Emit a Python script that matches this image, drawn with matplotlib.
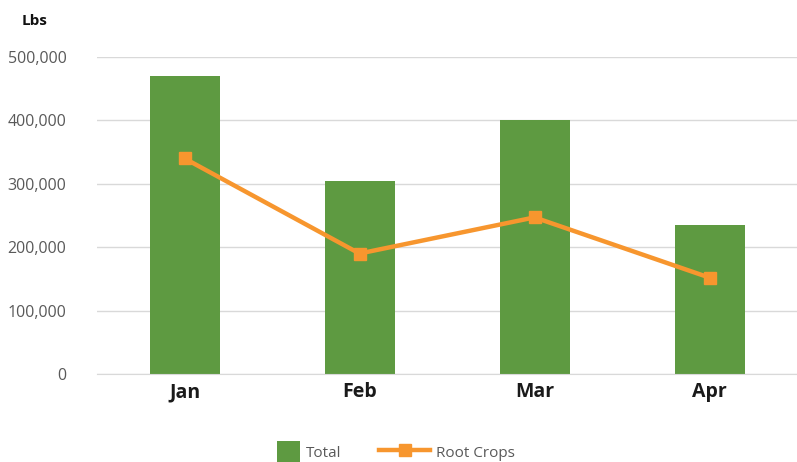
import matplotlib
matplotlib.use("Agg")
import matplotlib.pyplot as plt
from matplotlib.ticker import FuncFormatter
from matplotlib.patches import Rectangle
from matplotlib.legend_handler import HandlerPatch

months = ["Jan", "Feb", "Mar", "Apr"]
total = [470000, 305000, 400000, 235000]
root_crops = [340000, 190000, 247000, 152000]

green = "#5e9a41"
orange = "#f7962e"
grid_col = "#d9d9d9"
text_col = "#595959"

plt.rcParams["font.family"] = ["Open Sans", "DejaVu Sans"]

fig = plt.figure(figsize=(7.97, 4.62), dpi=100)
ax = fig.add_axes([97 / 797, 1 - 374 / 462, 1 - 97 / 797, (374 - 57) / 462])

x = range(len(months))
ax.bar(x, total, width=0.4, color=green, label="Total", zorder=2)
line, = ax.plot(x, root_crops, color=orange, linewidth=3.2, marker="s", markersize=9,
                label="Root Crops", zorder=3)

ax.set_xlim(-0.5, 3.5)
ax.set_ylim(0, 500000)
ax.set_yticks(range(0, 500001, 100000))
ax.yaxis.set_major_formatter(FuncFormatter(lambda v, p: f"{int(v):,}"))
ax.grid(axis="y", color=grid_col, linewidth=1, zorder=0)
ax.set_axisbelow(True)
for s in ["top", "right", "left"]:
    ax.spines[s].set_visible(False)
ax.spines["bottom"].set_color(grid_col)
ax.tick_params(axis="both", length=0)
ax.tick_params(axis="y", labelsize=11.5, labelcolor=text_col, pad=22)
ax.set_xticks(list(x))
ax.set_xticklabels(months, fontsize=14, fontweight="bold", color="#1a1a1a")
ax.tick_params(axis="x", pad=6)

fig.text(22 / 797, 1 - 21 / 462, "Lbs", fontsize=11, fontweight="bold",
         color="#111111", va="center", ha="left")


def square_patch(legend, orig_handle, xdescent, ydescent, width, height, fontsize):
    side = 16
    return Rectangle((width - side - xdescent, -ydescent + (height - side) / 2), side, side)


proxy = Rectangle((0, 0), 1, 1, facecolor=green, edgecolor="none")
leg = fig.legend([proxy, line], ["Total", "Root Crops"], loc="center",
                 bbox_to_anchor=(382 / 797, 1 - 452 / 462), ncol=2,
                 frameon=False, fontsize=11, handlelength=3.3, handleheight=1.45,
                 columnspacing=2.5, handletextpad=0.4,
                 handler_map={Rectangle: HandlerPatch(patch_func=square_patch)})
for t in leg.get_texts():
    t.set_color(text_col)

fig.savefig("out.png", dpi=100)
